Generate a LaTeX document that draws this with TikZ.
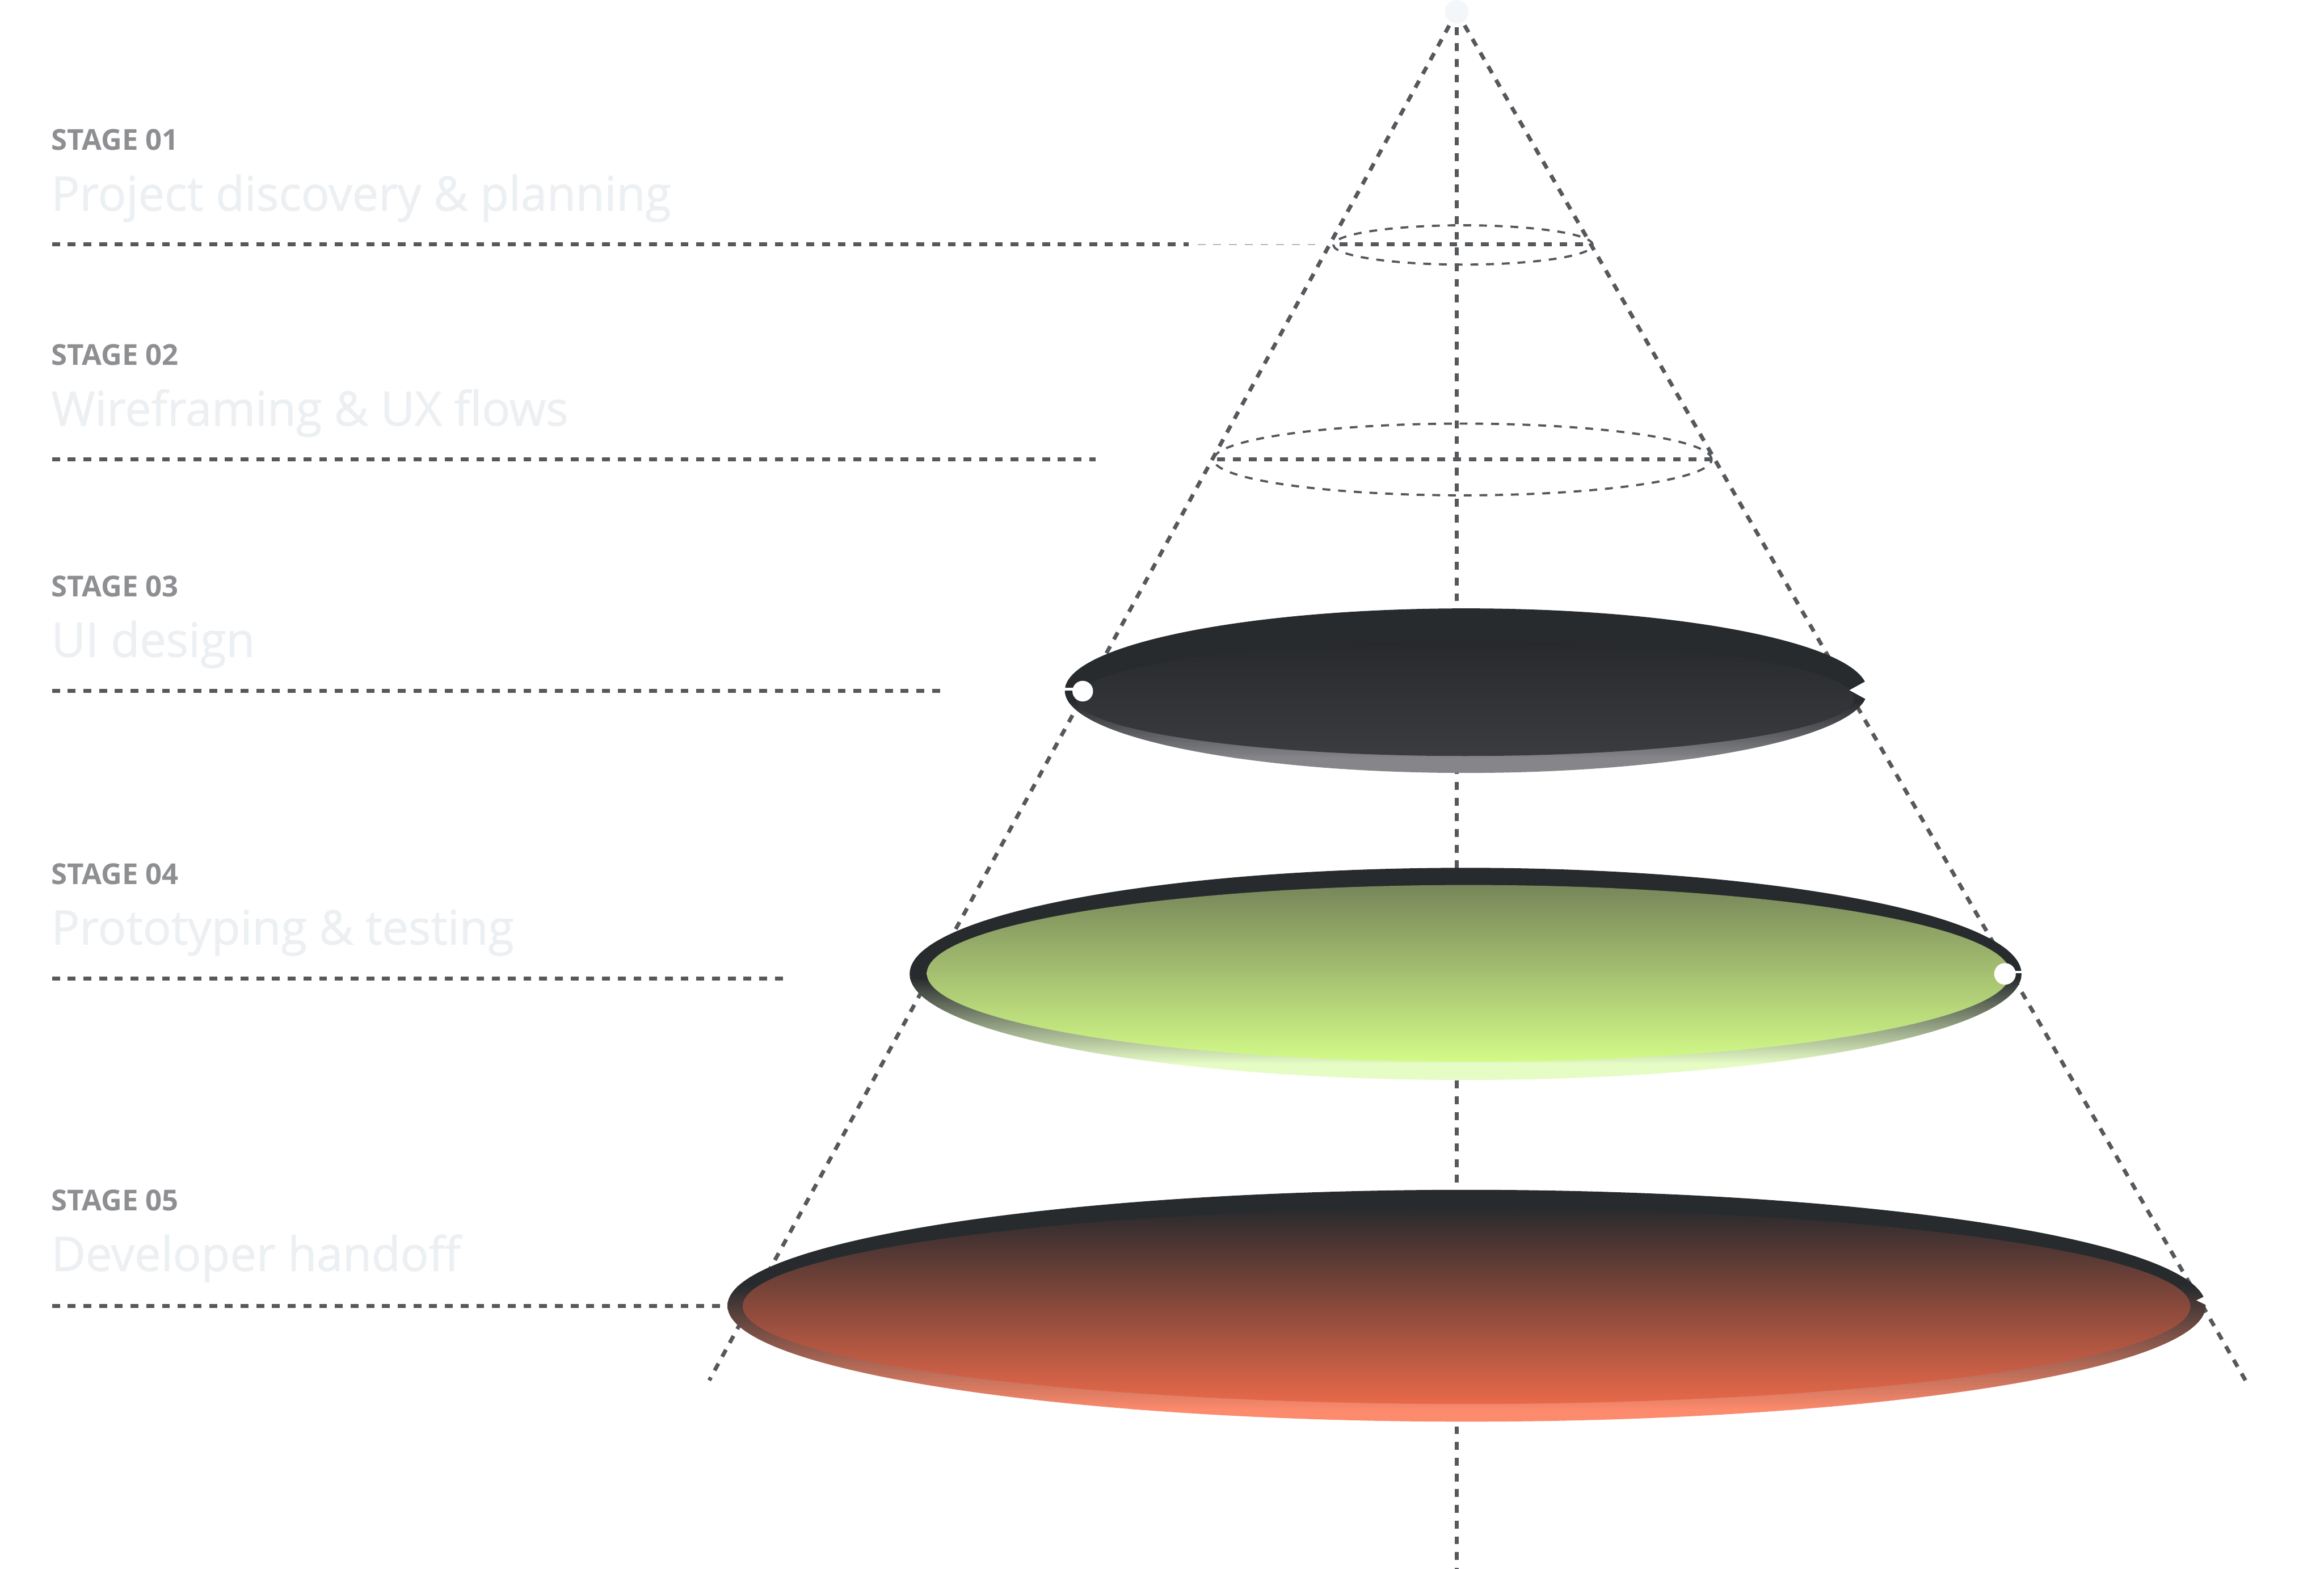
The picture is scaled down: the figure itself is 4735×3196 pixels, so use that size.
\documentclass[tikz,border=0pt]{standalone}
\usepackage{fontspec}
\setmainfont{Open Sans}
\newfontfamily\labelfont{Open Sans}
\newfontfamily\headfont{Open Sans}[FakeBold=1.2]
\definecolor{dashc}{HTML}{55585C}
\definecolor{faintc}{HTML}{B4B7BA}
\definecolor{stagegray}{HTML}{8E8F92}
\definecolor{titlegray}{HTML}{EDF0F3}
\definecolor{apexc}{HTML}{F4F7FA}
\definecolor{rim}{HTML}{282B2E}
\definecolor{edgeA}{HTML}{86868A}
\definecolor{faceAt}{HTML}{27292C}
\definecolor{faceAb}{HTML}{3B3C40}
\definecolor{edgeB}{HTML}{E6FCC5}
\definecolor{faceBt}{HTML}{778659}
\definecolor{faceBb}{HTML}{D3FA88}
\definecolor{edgeC}{HTML}{FC8A6C}
\definecolor{faceCt}{HTML}{2A2A2D}
\definecolor{faceCb}{HTML}{E8694A}
\newcommand{\ttltext}[1]{\scalebox{0.99}[1]{#1}}
\tikzset{
  guide/.style={draw=dashc, line width=0.08cm, dash pattern=on 0.16cm off 0.16cm},
  thinguide/.style={draw=dashc, line width=0.045cm, dash pattern=on 0.16cm off 0.16cm},
  faintguide/.style={draw=faintc, line width=0.02cm, dash pattern=on 0.16cm off 0.16cm},
  stagelabel/.style={inner sep=0pt, anchor=base west, text=stagegray,
    font=\labelfont\bfseries\fontsize{16.7pt}{20pt}\selectfont},
  titlelabel/.style={inner sep=0pt, anchor=base west, text=titlegray,
    font=\headfont\fontsize{27.5pt}{32pt}\selectfont},
}
\begin{document}
\begin{tikzpicture}[x=0.01cm,y=-0.01cm]
\useasboundingbox (0,0) rectangle (4735,3196);
\fill[white] (0,0) rectangle (4735,3196);

% cone and axis
\coordinate (apex) at (2968,24);
\coordinate (axisend) at (2968,3196);
\coordinate (coneL) at (1445,2812);
\coordinate (coneR) at (4575,2812);
\draw[guide] (apex) -- (axisend);
\draw[guide] (apex) -- (coneL);
\draw[guide] (apex) -- (coneR);

% dashed rings of stages 1 and 2
\draw[thinguide] (2981,499) ellipse [x radius=2.64cm, y radius=0.40cm];
\draw[thinguide] (2980,936) ellipse [x radius=5.07cm, y radius=0.73cm];

% stage lines
\coordinate (l1a) at (106,498);  \coordinate (l1b) at (2422,498);
\coordinate (f1a) at (2440,498); \coordinate (f1b) at (2690,498);
\coordinate (r1a) at (2729,498); \coordinate (r1b) at (3240,498);
\draw[guide] (l1a) -- (l1b);
\draw[faintguide] (f1a) -- (f1b);
\draw[guide] (r1a) -- (r1b);

\coordinate (l2a) at (106,936);  \coordinate (l2b) at (2232,936);
\coordinate (r2a) at (2480,936); \coordinate (r2b) at (3485,936);
\draw[guide] (l2a) -- (l2b);
\draw[guide] (r2a) -- (r2b);

\coordinate (l3a) at (106,1407); \coordinate (l3b) at (1921,1407);
\draw[guide] (l3a) -- (l3b);
\coordinate (l4a) at (106,1993); \coordinate (l4b) at (1610,1993);
\draw[guide] (l4a) -- (l4b);
\coordinate (l5a) at (106,2660); \coordinate (l5b) at (1490,2660);
\draw[guide] (l5a) -- (l5b);

% apex dot
\fill[apexc] (apex) circle [radius=0.24cm];

% ---- disc stage 03
\begin{scope}
\clip (2987,1407) ellipse [x radius=8.17cm, y radius=1.675cm];
\fill[rim] (2150,1230) rectangle (3830,1432);
\shade[top color=rim, bottom color=edgeA] (2150,1430) rectangle (3830,1545);
\fill[edgeA] (2150,1543) rectangle (3830,1590);
\end{scope}
\shade[top color=faceAt, bottom color=faceAb] (2985,1423) ellipse [x radius=7.92cm, y radius=1.17cm];
\fill[white] (3810,1383) -- (3768,1406) -- (3810,1429) -- cycle;
\draw[white, line width=0.05cm] (2165,1404) -- (2200,1404);
\fill[white] (2206,1408) circle [radius=0.21cm];

% ---- disc stage 04
\begin{scope}
\clip (2986,1984) ellipse [x radius=11.32cm, y radius=2.16cm];
\fill[rim] (1840,1760) rectangle (4130,1995);
\shade[top color=rim, bottom color=edgeB] (1840,1992) rectangle (4130,2168);
\fill[edgeB] (1840,2166) rectangle (4130,2210);
\end{scope}
\shade[top color=faceBt, bottom color=faceBb] (2992,1983) ellipse [x radius=11.03cm, y radius=1.80cm];
\draw[white, line width=0.05cm] (4085,1980) -- (4125,1980);
\fill[white] (4085,1984) circle [radius=0.22cm];

% ---- disc stage 05
\begin{scope}
\clip (2988,2660) ellipse [x radius=15.05cm, y radius=2.36cm];
\fill[rim] (1470,2410) rectangle (4510,2622);
\shade[top color=rim, bottom color=edgeC] (1470,2620) rectangle (4510,2872);
\fill[edgeC] (1470,2870) rectangle (4510,2910);
\end{scope}
\shade[top color=faceCt, bottom color=faceCb] (2988,2661) ellipse [x radius=14.74cm, y radius=1.99cm];
\fill[white] (4502,2636) -- (4475,2649) -- (4502,2662) -- cycle;

% labels
\node[stagelabel] (s1) at (104,306) {STAGE 01};
\node[titlelabel] (t1) at (104,429) {\ttltext{Project discovery \& planning}};
\node[stagelabel] (s2) at (104,744) {STAGE 02};
\node[titlelabel] (t2) at (104,867) {\ttltext{Wireframing \& UX flows}};
\node[stagelabel] (s3) at (104,1215) {STAGE 03};
\node[titlelabel] (t3) at (104,1338) {\ttltext{UI design}};
\node[stagelabel] (s4) at (104,1802) {STAGE 04};
\node[titlelabel] (t4) at (104,1924) {\ttltext{Prototyping \& testing}};
\node[stagelabel] (s5) at (104,2466) {STAGE 05};
\node[titlelabel] (t5) at (104,2589) {\ttltext{Developer handoff}};
\end{tikzpicture}
\end{document}
